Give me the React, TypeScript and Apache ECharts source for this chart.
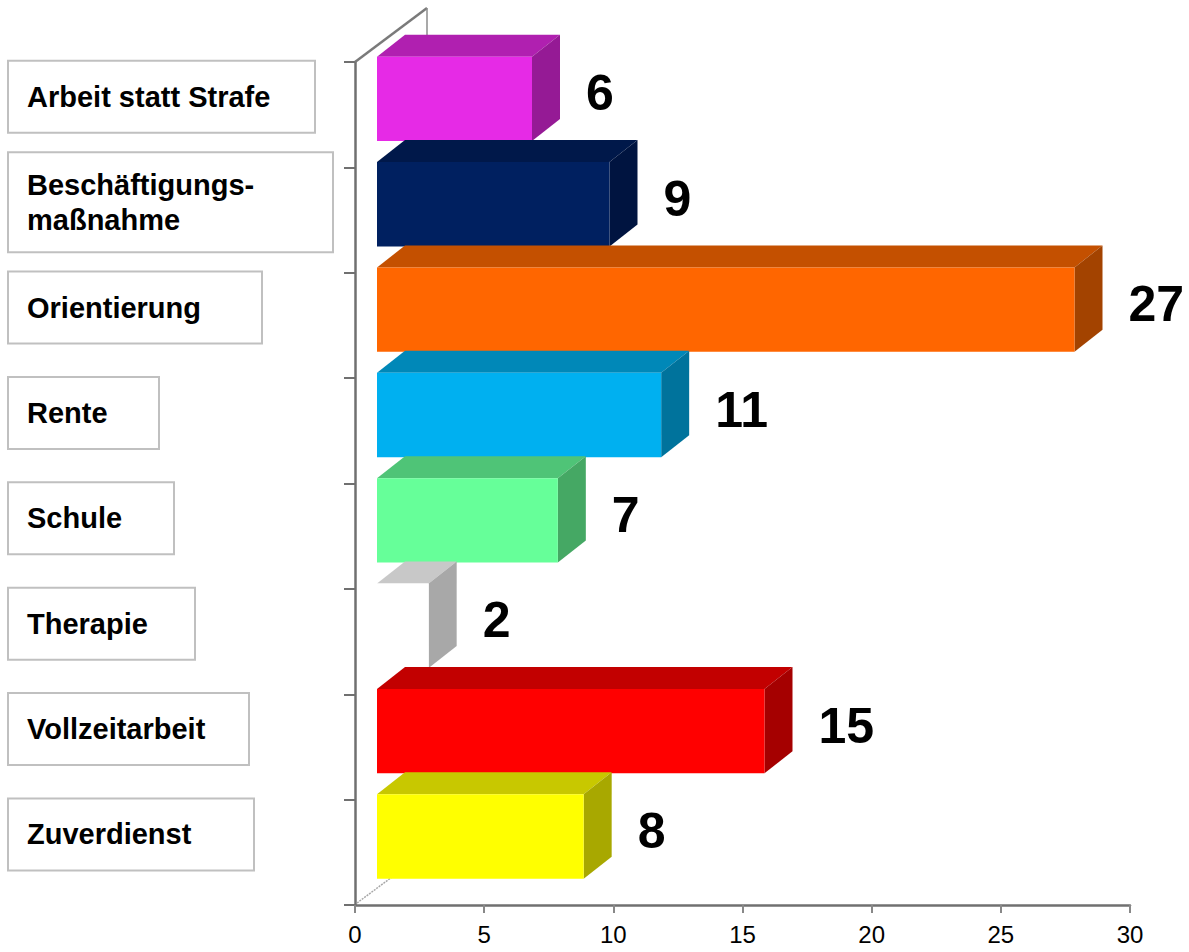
import React, { useEffect, useRef } from 'react';
import * as echarts from 'echarts';

// ---- data ----
const CATEGORIES: string[] = [
  'Arbeit statt Strafe',
  'Beschäftigungs-\nmaßnahme',
  'Orientierung',
  'Rente',
  'Schule',
  'Therapie',
  'Vollzeitarbeit',
  'Zuverdienst',
];
const VALUES: number[] = [6, 9, 27, 11, 7, 2, 15, 8];
const X_MIN = 0;
const X_MAX = 30;
const X_INTERVAL = 5;

// ---- styles ----
const FRONT_COLORS = ['#E62AE6', '#002060', '#FF6600', '#00B0F0', '#66FF99', '#FFFFFF', '#FF0000', '#FFFF00'];
const TOP_COLORS = ['#B020B0', '#00184A', '#C45000', '#0088B8', '#4FC477', '#C8C8C8', '#C20000', '#C8C800'];
const SIDE_COLORS = ['#951A95', '#001440', '#A34300', '#00739C', '#45A864', '#A8A8A8', '#A50000', '#A8A800'];
const BOX_WIDTHS = [305, 323, 252, 149, 164, 185, 239, 244];

const FRONT_SHIFT = 22; // px offset of the bar front plane from the wall
const DEPTH_X = 28;
const DEPTH_Y = 22;
const LABEL_LEFT = 9;
const AXIS_COLOR = '#707070';
const FONT = '"Liberation Sans", Arial, Helvetica, sans-serif';

export default function App() {
  const ref = useRef<HTMLDivElement>(null);

  useEffect(() => {
    if (!ref.current) return;
    const chart = echarts.init(ref.current, undefined, { renderer: 'svg' });

    const renderItem = (params: any, api: any) => {
      const idx = params.dataIndex;
      const v = api.value(0);
      const c = api.value(1);
      const p0 = api.coord([0, c]);
      const p1 = api.coord([v, c]);
      const band = api.size([0, 1])[1];
      const h = band * 0.8;
      const cy = p0[1] - band * 0.15;
      const x0 = p0[0] + FRONT_SHIFT;
      const x1 = p1[0] + FRONT_SHIFT;
      const yT = cy - h / 2;
      const yB = cy + h / 2;
      const label = CATEGORIES[idx];
      const lines = label.split('\n').length;
      const padV = lines === 1 ? 17.5 : 14;
      return {
        type: 'group',
        children: [
          {
            type: 'polygon',
            shape: { points: [[x0, yT], [x0 + DEPTH_X, yT - DEPTH_Y], [x1 + DEPTH_X, yT - DEPTH_Y], [x1, yT]] },
            style: { fill: TOP_COLORS[idx] },
          },
          {
            type: 'polygon',
            shape: { points: [[x1, yT], [x1 + DEPTH_X, yT - DEPTH_Y], [x1 + DEPTH_X, yB - DEPTH_Y], [x1, yB]] },
            style: { fill: SIDE_COLORS[idx] },
          },
          {
            type: 'rect',
            shape: { x: x0, y: yT, width: x1 - x0, height: h },
            style: { fill: FRONT_COLORS[idx] },
          },
          {
            type: 'text',
            style: {
              text: String(v),
              x: x1 + DEPTH_X + 26,
              y: cy - 5.5,
              fill: '#000000',
              font: `bold 50px ${FONT}`,
              align: 'left',
              verticalAlign: 'middle',
            },
          },
          {
            type: 'text',
            style: {
              text: label,
              x: LABEL_LEFT,
              y: p0[1] - band * 0.17,
              fill: '#000000',
              font: `bold 29px ${FONT}`,
              lineHeight: 35,
              align: 'left',
              verticalAlign: 'middle',
              width: BOX_WIDTHS[idx] - 18,
              backgroundColor: '#FFFFFF',
              borderColor: '#C0C0C0',
              borderWidth: 2,
              padding: [padV, 0, padV, 18],
            },
          },
        ],
      };
    };

    chart.setOption({
      animation: false,
      backgroundColor: '#FFFFFF',
      grid: { left: 355, right: 59, top: 62, bottom: 47, containLabel: false },
      xAxis: {
        type: 'value',
        min: X_MIN,
        max: X_MAX,
        interval: X_INTERVAL,
        axisLine: { show: true, lineStyle: { color: AXIS_COLOR, width: 2.5 } },
        axisTick: { show: true, length: 8, lineStyle: { color: '#888888', width: 2 } },
        axisLabel: { color: '#000000', fontSize: 24, fontFamily: FONT, margin: 17 },
        splitLine: { show: false },
      },
      yAxis: {
        type: 'category',
        inverse: true,
        data: CATEGORIES,
        axisLine: { show: true, lineStyle: { color: AXIS_COLOR, width: 2.5 } },
        axisTick: { show: true, length: 11, lineStyle: { color: AXIS_COLOR, width: 2 } },
        axisLabel: { show: false },
        splitLine: { show: false },
      },
      graphic: [
        { type: 'line', z: 1, shape: { x1: 355, y1: 62, x2: 427, y2: 8 }, style: { stroke: '#7A7A7A', lineWidth: 2.5 } },
        { type: 'line', z: 1, shape: { x1: 427, y1: 8, x2: 427, y2: 36 }, style: { stroke: '#8C8C8C', lineWidth: 1.5 } },
        { type: 'line', z: 1, shape: { x1: 357, y1: 903, x2: 392, y2: 877 }, style: { stroke: '#A8A8A8', lineWidth: 1.5, lineDash: [2, 1] } },
      ],
      series: [
        {
          type: 'custom',
          coordinateSystem: 'cartesian2d',
          clip: false,
          silent: true,
          encode: { x: 0, y: 1 },
          data: VALUES.map((v, i) => [v, i]),
          renderItem,
        },
      ],
    });

    return () => chart.dispose();
  }, []);

  return (
    <div
      ref={ref}
      style={{ position: 'absolute', left: 0, top: 0, width: 1189, height: 952 }}
    />
  );
}
